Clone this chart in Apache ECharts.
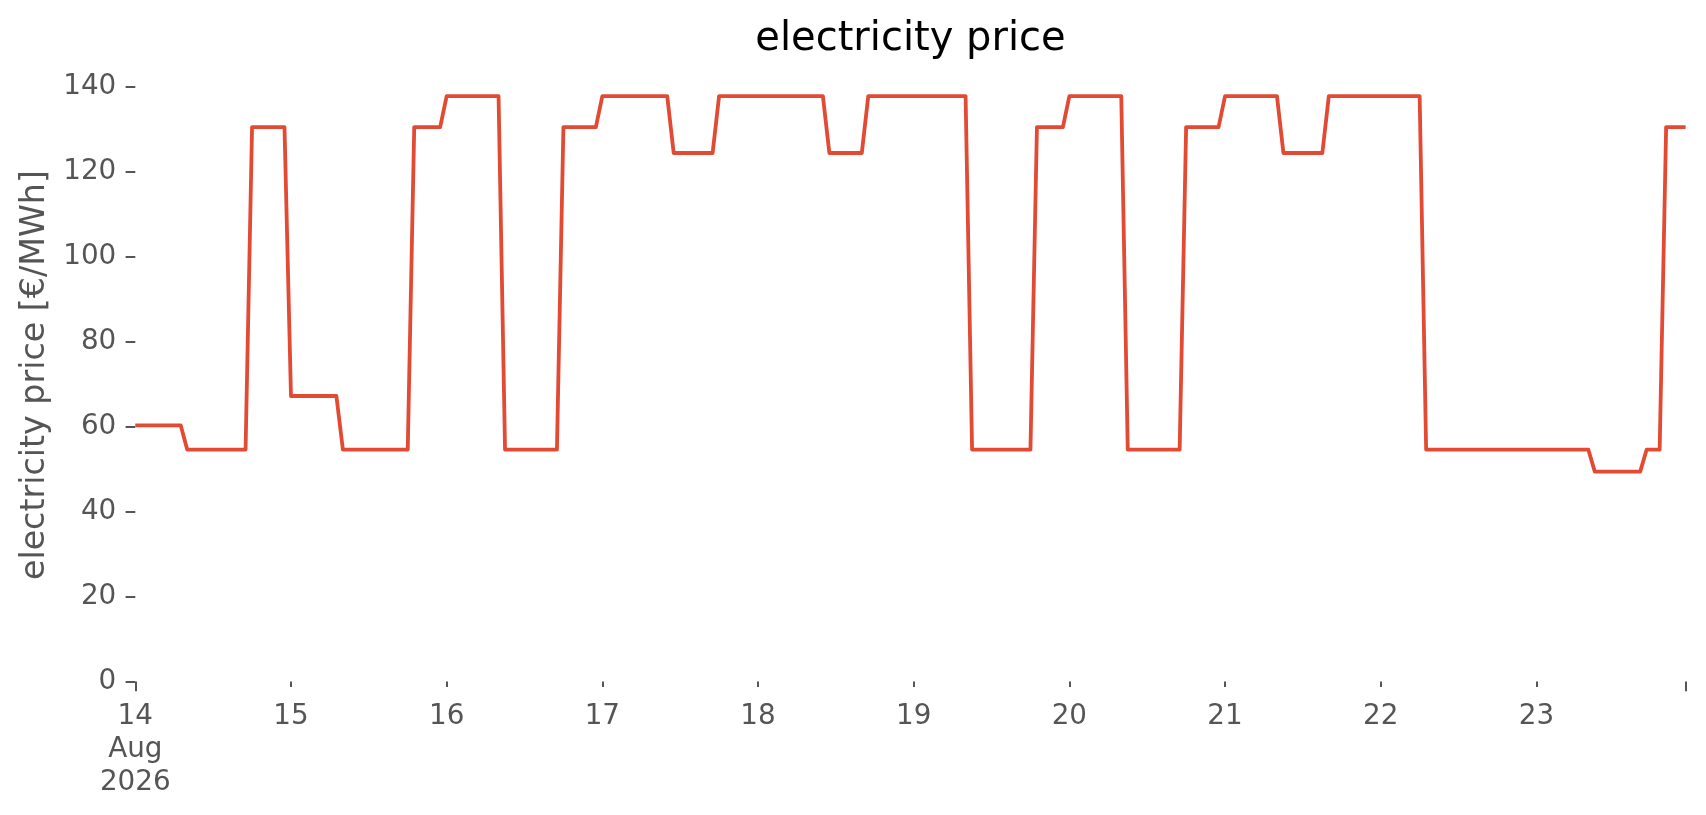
<!DOCTYPE html>
<html>
<head>
<meta charset="utf-8">
<title>electricity price</title>
<script src="https://cdn.jsdelivr.net/npm/echarts@6/dist/echarts.min.js"></script>
<style>
  html, body { margin: 0; padding: 0; background: #fff; }
  #chart { width: 1706px; height: 815px; }
</style>
</head>
<body>
<div id="chart"></div>
<script>
// hourly prices [€/MWh], one array per day (00:00 .. 23:00)
var aug14 = [60.3, 60.3, 60.3, 60.3, 60.3, 60.3, 60.3, 60.3,
             54.6, 54.6, 54.6, 54.6, 54.6, 54.6, 54.6, 54.6, 54.6, 54.6,
             130.5, 130.5, 130.5, 130.5, 130.5, 130.5];
var aug15 = [67.2, 67.2, 67.2, 67.2, 67.2, 67.2, 67.2, 67.2,
             54.6, 54.6, 54.6, 54.6, 54.6, 54.6, 54.6, 54.6, 54.6, 54.6, 54.6,
             130.5, 130.5, 130.5, 130.5, 130.5];
var aug16 = [137.8, 137.8, 137.8, 137.8, 137.8, 137.8, 137.8, 137.8, 137.8,
             54.6, 54.6, 54.6, 54.6, 54.6, 54.6, 54.6, 54.6, 54.6,
             130.5, 130.5, 130.5, 130.5, 130.5, 130.5];
var aug17 = [137.8, 137.8, 137.8, 137.8, 137.8, 137.8, 137.8, 137.8, 137.8, 137.8, 137.8,
             124.4, 124.4, 124.4, 124.4, 124.4, 124.4, 124.4,
             137.8, 137.8, 137.8, 137.8, 137.8, 137.8];
var aug18 = [137.8, 137.8, 137.8, 137.8, 137.8, 137.8, 137.8, 137.8, 137.8, 137.8, 137.8,
             124.4, 124.4, 124.4, 124.4, 124.4, 124.4,
             137.8, 137.8, 137.8, 137.8, 137.8, 137.8, 137.8];
var aug19 = [137.8, 137.8, 137.8, 137.8, 137.8, 137.8, 137.8, 137.8, 137.8,
             54.6, 54.6, 54.6, 54.6, 54.6, 54.6, 54.6, 54.6, 54.6, 54.6,
             130.5, 130.5, 130.5, 130.5, 130.5];
var aug20 = [137.8, 137.8, 137.8, 137.8, 137.8, 137.8, 137.8, 137.8, 137.8,
             54.6, 54.6, 54.6, 54.6, 54.6, 54.6, 54.6, 54.6, 54.6,
             130.5, 130.5, 130.5, 130.5, 130.5, 130.5];
var aug21 = [137.8, 137.8, 137.8, 137.8, 137.8, 137.8, 137.8, 137.8, 137.8,
             124.4, 124.4, 124.4, 124.4, 124.4, 124.4, 124.4,
             137.8, 137.8, 137.8, 137.8, 137.8, 137.8, 137.8, 137.8];
var aug22 = [137.8, 137.8, 137.8, 137.8, 137.8, 137.8, 137.8,
             54.6, 54.6, 54.6, 54.6, 54.6, 54.6, 54.6, 54.6, 54.6, 54.6,
             54.6, 54.6, 54.6, 54.6, 54.6, 54.6, 54.6];
var aug23 = [54.6, 54.6, 54.6, 54.6, 54.6, 54.6, 54.6, 54.6, 54.6,
             49.4, 49.4, 49.4, 49.4, 49.4, 49.4, 49.4, 49.4,
             54.6, 54.6, 54.6,
             130.5, 130.5, 130.5, 130.5];

// tick labels, one per day
var dayLabels = ['14\nAug\n2026', '15', '16', '17', '18', '19', '20', '21', '22', '23'];

var prices = aug14.concat(aug15, aug16, aug17, aug18, aug19, aug20, aug21, aug22, aug23);

// one category per hour from 14 Aug 2026 00:00
var hours = [];
for (var d = 0; d < dayLabels.length; d++) {
    for (var h = 0; h < 24; h++) {
        hours.push('2026-08-' + (14 + d) + ' ' + (h < 10 ? '0' + h : h) + ':00');
    }
}
var last = hours.length - 1;

var font = 'DejaVu Sans';
var grey = '#555555';

var myChart = echarts.init(document.getElementById('chart'));
myChart.setOption({
    animation: false,
    backgroundColor: '#ffffff',
    title: {
        text: 'electricity price',
        left: 910.5,
        top: 20,
        padding: 0,
        textAlign: 'center',
        textStyle: {
            fontFamily: font,
            fontSize: 40,
            fontWeight: 'normal',
            color: '#000000'
        }
    },
    grid: {
        left: 135.3,
        right: 20.4,
        top: 86.7,
        bottom: 133.5
    },
    xAxis: [{
        type: 'category',
        data: hours,
        boundaryGap: false,
        axisLine: { show: false },
        axisTick: {
            show: true,
            length: 5.6,
            interval: function(i) { return i % 24 === 0; },
            lineStyle: { color: grey, width: 2 }
        },
        axisLabel: {
            interval: function(i) { return i % 24 === 0; },
            formatter: function(value, index) { return dayLabels[index / 24]; },
            color: grey,
            fontFamily: font,
            fontSize: 27.8,
            lineHeight: 33,
            margin: 19
        },
        splitLine: { show: false }
    }, {
        // major ticks at both ends
        type: 'category',
        data: hours,
        boundaryGap: false,
        position: 'bottom',
        axisLine: { show: false },
        axisTick: {
            show: true,
            length: 9.7,
            interval: function(i) { return i === 0 || i === last; },
            lineStyle: { color: grey, width: 2 }
        },
        axisLabel: { show: false },
        splitLine: { show: false }
    }],
    yAxis: {
        type: 'value',
        min: 0,
        max: 140,
        interval: 20,
        name: 'electricity price [€/MWh]',
        nameLocation: 'middle',
        nameGap: 82,
        nameTextStyle: {
            fontFamily: font,
            fontSize: 33.3,
            color: grey,
            padding: [0, 0, 0, 18]
        },
        axisLine: { show: false },
        axisTick: {
            show: true,
            length: 9.7,
            lineStyle: { color: grey, width: 2 }
        },
        axisLabel: {
            color: grey,
            fontFamily: font,
            fontSize: 27.8,
            margin: 19
        },
        splitLine: { show: false }
    },
    series: [{
        name: 'electricity price',
        type: 'line',
        data: prices,
        showSymbol: false,
        lineStyle: {
            color: '#E24A33',
            width: 3.8,
            join: 'round',
            cap: 'butt'
        },
        itemStyle: { color: '#E24A33' }
    }]
});
</script>
</body>
</html>
